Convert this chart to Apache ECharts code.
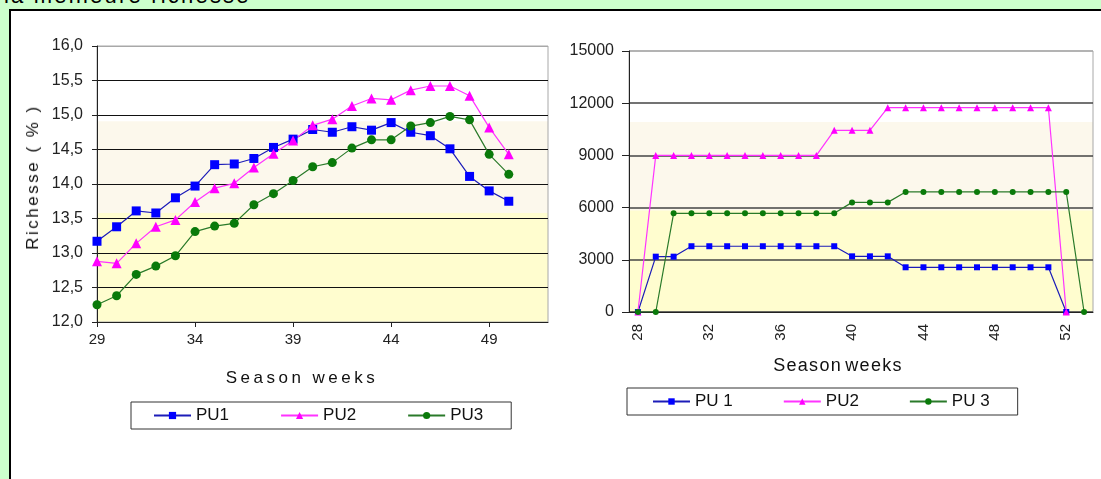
<!DOCTYPE html>
<html><head><meta charset="utf-8">
<script src="https://cdn.jsdelivr.net/npm/echarts@6/dist/echarts.min.js"></script>
<style>
html,body{margin:0;padding:0;width:1101px;height:479px;overflow:hidden;background:#ccffcc;font-family:"Liberation Sans",Arial,sans-serif;}
#box{position:absolute;left:9px;top:9px;width:1100px;height:480px;background:#fff;border-left:2px solid #000;border-top:2px solid #000;}
#top{position:absolute;left:4px;top:-17px;font-size:22px;color:#000;white-space:nowrap;letter-spacing:2.2px;}
#chart{position:absolute;left:0;top:0;width:1101px;height:479px;}
.t{position:absolute;white-space:nowrap;color:#111;transform:translate(-50%,-50%);}
</style></head><body>
<div id="top">la meilleure richesse</div>
<div id="box"></div>
<div id="chart"></div>
<div class="t" style="left:33px;top:177px;font-size:17px;letter-spacing:2.5px;transform:translate(-50%,-50%) rotate(-90deg);">Richesse ( % )</div>
<div class="t" style="left:302px;top:378px;font-size:17px;letter-spacing:3.5px;">Season weeks</div>
<div class="t" style="left:838px;top:365px;font-size:18px;letter-spacing:1.3px;word-spacing:-3px;">Season weeks</div>
<script>
// ---- Left chart data (Richesse %) ----
const weeksA = ['29','30','31','32','33','34','35','36','37','38','39','40','41','42','43','44','45','46','47','48','49','50','51','52'];
const pu1A = [13.17,13.38,13.61,13.58,13.80,13.97,14.28,14.29,14.37,14.53,14.65,14.79,14.75,14.83,14.78,14.89,14.75,14.70,14.51,14.11,13.90,13.75];
const pu2A = [12.88,12.85,13.14,13.38,13.48,13.74,13.94,14.01,14.24,14.44,14.63,14.85,14.94,15.13,15.24,15.22,15.36,15.42,15.42,15.28,14.82,14.43];
const pu3A = [12.25,12.38,12.69,12.81,12.96,13.31,13.39,13.43,13.70,13.86,14.05,14.25,14.31,14.52,14.64,14.64,14.84,14.89,14.98,14.93,14.43,14.14];
const namesA = ['PU1','PU2','PU3'];
const bandsA = [12.0, 13.58, 14.91];

// ---- Right chart data ----
const weeksB = ['28','29','30','31','32','33','34','35','36','37','38','39','40','41','42','43','44','45','46','47','48','49','50','51','52','53'];
const pu1B = [0,3180,3180,3780,3780,3780,3780,3780,3780,3780,3780,3780,3200,3200,3200,2570,2570,2570,2570,2570,2570,2570,2570,2570,0];
const pu2B = [0,9000,9000,9000,9000,9000,9000,9000,9000,9000,9000,10440,10440,10440,11740,11740,11740,11740,11740,11740,11740,11740,11740,11740,0];
const pu3B = [0,0,5670,5670,5670,5670,5670,5670,5670,5670,5670,5670,6300,6300,6300,6900,6900,6900,6900,6900,6900,6900,6900,6900,6900,0];
const namesB = ['PU 1','PU2','PU 3'];
const bandsB = [0, 5845, 10920];

const FONT = '"Liberation Sans", Arial, sans-serif';
const CREAM = '#fcf8ec';
const YELLOW = '#fffdcf';
const C1 = '#0000ff', L1 = '#1c1cb8';
const C2 = '#ff00ff', L2 = '#ff33ff';
const C3 = '#0a7a0a', L3 = '#2a7a2a';

function bandSeries(xi, yi, b) {
  return {
    type: 'line', xAxisIndex: xi, yAxisIndex: yi, data: [], z: -2, silent: true,
    markArea: { silent: true, z: -2, zlevel: 0, data: [
      [{ yAxis: b[0], itemStyle: { color: YELLOW } }, { yAxis: b[1] }],
      [{ yAxis: b[1], itemStyle: { color: CREAM } }, { yAxis: b[2] }]
    ] }
  };
}
function lineSeries(name, xi, yi, data, sym, size, c, lc) {
  return {
    name, type: 'line', xAxisIndex: xi, yAxisIndex: yi, data,
    symbol: sym, symbolSize: size, showAllSymbol: true,
    itemStyle: { color: c }, lineStyle: { color: lc, width: 1.2 },
    emphasis: { disabled: true }, animation: false, z: 3
  };
}
const axisText = { color: '#222', fontFamily: FONT };

const option = {
  animation: false,
  textStyle: { fontFamily: FONT },
  grid: [
    { left: 97, top: 46, width: 451, height: 276, show: true, borderColor: '#a8a8a8', borderWidth: 1, backgroundColor: 'transparent', outerBoundsMode: 'none', containLabel: false },
    { left: 629, top: 51, width: 464, height: 261, show: true, borderColor: '#a8a8a8', borderWidth: 1, backgroundColor: 'transparent', outerBoundsMode: 'none', containLabel: false }
  ],
  xAxis: [
    { type: 'category', gridIndex: 0, data: weeksA, boundaryGap: false, z: 1,
      axisLine: { lineStyle: { color: '#222', width: 1 } },
      axisTick: { interval: 4, length: 5, lineStyle: { color: '#222' } },
      axisLabel: Object.assign({ interval: 4, fontSize: 15, margin: 10 }, axisText),
      splitLine: { show: false } },
    { type: 'category', gridIndex: 1, data: weeksB, boundaryGap: true, z: 1,
      axisLine: { lineStyle: { color: '#222', width: 1 } },
      axisTick: { interval: 0, length: 5, lineStyle: { color: '#222' } },
      axisLabel: Object.assign({ interval: 3, rotate: 90, fontSize: 15, margin: 12 }, axisText),
      splitLine: { show: false } }
  ],
  yAxis: [
    { type: 'value', gridIndex: 0, min: 12, max: 16, interval: 0.5, z: 1,
      axisLine: { show: true, lineStyle: { color: '#222' } },
      axisTick: { show: true, length: 5, lineStyle: { color: '#222' } },
      axisLabel: Object.assign({ fontSize: 16, margin: 14, formatter: v => v.toFixed(1).replace('.', ',') }, axisText),
      splitLine: { show: true, lineStyle: { width: 1, color: ['#111','#111','#111','#111','#111','#111','#111','#111','#a8a8a8'] } } },
    { type: 'value', gridIndex: 1, min: 0, max: 15000, interval: 3000, z: 1,
      axisLine: { show: true, lineStyle: { color: '#222' } },
      axisTick: { show: true, length: 7, lineStyle: { color: '#222' } },
      axisLabel: Object.assign({ fontSize: 16, margin: 15, formatter: v => String(v) }, axisText),
      splitLine: { show: true, lineStyle: { width: 1.5, color: ['#444','#444','#444','#444','#444','#a8a8a8'] } } }
  ],
  legend: [
    { data: namesA, left: 131, top: 402, orient: 'horizontal',
      padding: [5, 28, 5, 22], itemGap: 51, itemWidth: 37, itemHeight: 9,
      borderColor: '#333', borderWidth: 1, backgroundColor: '#fff',
      selectedMode: false,
      textStyle: { fontSize: 17, color: '#111', width: 40, fontFamily: FONT } },
    { data: namesB, left: 627, top: 388, orient: 'horizontal',
      padding: [5, 28, 5, 25], itemGap: 50, itemWidth: 37, itemHeight: 8,
      borderColor: '#333', borderWidth: 1, backgroundColor: '#fff',
      selectedMode: false,
      textStyle: { fontSize: 17, color: '#111', width: 44, fontFamily: FONT } }
  ],
  series: [
    bandSeries(0, 0, bandsA),
    bandSeries(1, 1, bandsB),
    lineSeries(namesA[0], 0, 0, pu1A, 'rect', 9, C1, L1),
    lineSeries(namesA[1], 0, 0, pu2A, 'triangle', 10, C2, L2),
    lineSeries(namesA[2], 0, 0, pu3A, 'circle', 9, C3, L3),
    lineSeries(namesB[0], 1, 1, pu1B, 'rect', 6, C1, L1),
    lineSeries(namesB[1], 1, 1, pu2B, 'triangle', 7, C2, L2),
    lineSeries(namesB[2], 1, 1, pu3B, 'circle', 6, C3, L3)
  ]
};
const chart = echarts.init(document.getElementById('chart'), null, { renderer: 'canvas' });
chart.setOption(option);
</script>
</body></html>
